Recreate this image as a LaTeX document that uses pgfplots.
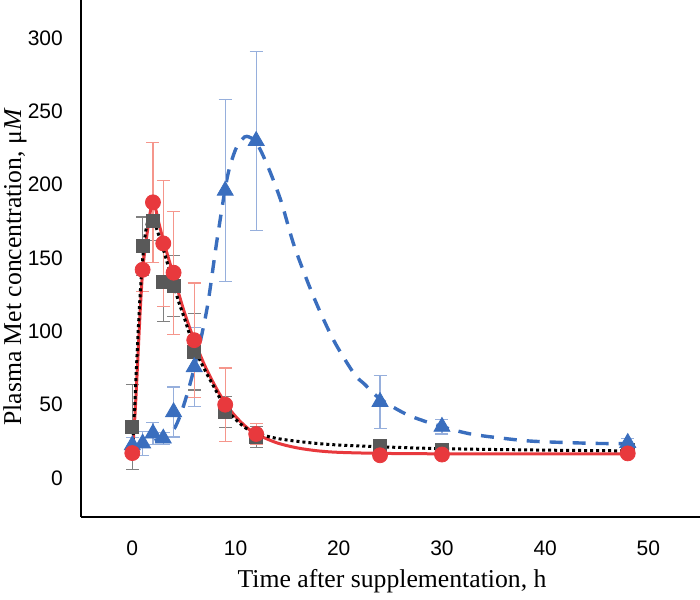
\documentclass[border=0pt]{standalone}
\usepackage{pgfplots}
\pgfplotsset{compat=1.18}
\usepackage{pgfplotstable}
\usepackage{fontspec}
\setmainfont{Liberation Serif}
\newfontfamily\arialf{Liberation Sans}
\definecolor{mred}{RGB}{232,57,61}
\definecolor{ered}{RGB}{245,150,140}
\definecolor{mgray}{RGB}{89,89,89}
\definecolor{egray}{RGB}{128,128,128}
\definecolor{mblue}{RGB}{58,110,190}
\definecolor{eblue}{RGB}{150,175,220}

\pgfplotstableread{
t y e
0 17 3
1 142 15
2 188 41
3 160 43
4 140 42
6 94 39
9 50 25
12 30 7
24 15.5 2
30 16 2
48 16.8 2
}\redtab
\pgfplotstableread{
t y e
0 35 29
1 158 20
2 175 13
3 134 27
4 131 21
6 86 26
9 45 10.5
12 28 7
24 22 2
30 19 2
48 19 2
}\graytab
\pgfplotstableread{
t y e
0 22.4 5
1 23.6 8
2 30.4 7.5
3 27 4
4 45 17
6 75.7 27
9 196 62
12 230 61
24 52 18
30 35 5
48 24 3
}\bluetab

\begin{document}
\begin{tikzpicture}
\useasboundingbox (-40.35pt,-41pt) rectangle (309.65pt,258.5pt);
\begin{axis}[
  at={(0,0)}, anchor=south west,
  scale only axis, width=309.65pt, height=258.5pt,
  xmin=-5, xmax=55, ymin=-26.6, ymax=326,
  axis x line=bottom, axis y line=left,
  axis line style={-, line width=1pt, black},
  xtick={0,10,...,50}, ytick={0,50,...,300},
  major tick length=0pt,
  /pgf/number format/assume math mode=true,
  ticklabel style={font=\arialf\fontsize{10.5}{12}\selectfont},
  xticklabel style={yshift=-8.3pt},
  yticklabel style={xshift=-5.4pt},
  xlabel={Time after supplementation, h},
  ylabel={Plasma Met concentration, μ\textit{M}},
  label style={font=\fontsize{12.85}{15}\selectfont},
  xlabel style={at={(axis description cs:0.5027,-0.125)}, anchor=center},
  ylabel style={at={(axis description cs:-0.106,0.4836)}, anchor=center},
]
% gray points
\addplot[only marks, mark=square*, mark size=3.25pt, mark options={fill=mgray, draw=mgray},
  error bars/.cd, y dir=both, y explicit,
  error bar style={line width=0.6pt, color=egray},
  error mark options={rotate=90, mark size=3.25pt, line width=0.6pt, color=egray}]
  table[x=t, y=y, y error=e] {\graytab};
% blue dashed fit
\addplot[mblue, line width=1.7pt, dash pattern=on 6.5pt off 5pt, smooth] coordinates {
(0,22) (1,23) (2,25) (3,28) (4,33) (4.66,43) (5.3,57) (6.1,78) (7.25,116) (8.2,162) (9.2,205) (10,224) (10.65,231) (11.1,233) (12,229) (13.1,213) (14.4,189) (15.7,158) (17.6,123) (19.5,94) (21.5,71) (22.5,64) (24,54) (26.7,43) (30,35) (32.8,30) (36,27) (39,25) (44.8,23.6) (48,23.5)
};
% blue points
\addplot[only marks, mark=triangle*, mark size=4.6pt, mark options={fill=mblue, draw=mblue},
  error bars/.cd, y dir=both, y explicit,
  error bar style={line width=0.6pt, color=eblue},
  error mark options={rotate=90, mark size=3.25pt, line width=0.6pt, color=eblue}]
  table[x=t, y=y, y error=e] {\bluetab};
% red points
\addplot[only marks, mark=*, mark size=3.75pt, mark options={fill=mred, draw=mred},
  error bars/.cd, y dir=both, y explicit,
  error bar style={line width=0.6pt, color=ered},
  error mark options={rotate=90, mark size=3.25pt, line width=0.6pt, color=ered}]
  table[x=t, y=y, y error=e] {\redtab};
% red solid fit
\addplot[mred, line width=1.5pt, smooth] coordinates {
(0,17) (0.25,42) (0.5,76) (0.75,112) (1,141) (1.25,157) (1.5,170) (1.75,182) (2,190) (2.25,184) (2.5,176) (2.75,169) (3,162) (3.5,150) (4,138) (5,114) (6,94) (7,77) (8,63) (9,51) (10,42) (11,35) (12,30) (14,24) (16,20.5) (18,18.5) (20,17.5) (24,16.8) (30,16.5) (40,16.5) (48,16.5)
};
% black dotted fit
\addplot[black, line width=1.5pt, dash pattern=on 1.5pt off 1.5pt, smooth] coordinates {
(0,17) (0.25,52) (0.5,90) (0.75,124) (1,149) (1.25,166) (1.5,175) (1.75,179) (2,177) (2.5,167) (3,156) (3.5,144) (4,132) (4.5,120) (5,110) (6,89) (7,74) (8,61) (9,48) (10,40) (11,34) (12,30.5) (14,27) (16,25) (18,23.5) (20,22.5) (24,21.3) (30,20) (40,19) (48,18.5)
};
\end{axis}
\end{tikzpicture}
\end{document}
